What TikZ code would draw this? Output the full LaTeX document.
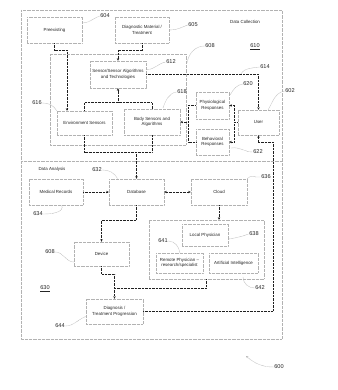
\documentclass[tikz,border=0pt]{standalone}
\usepackage{fontspec}
\setmainfont{Liberation Sans}
\usetikzlibrary{arrows.meta,calc}
\begin{document}
\begin{tikzpicture}[x=1pt,y=-1pt,
  box/.style={draw=gray!60, dash pattern=on 0.6pt off 0.7pt, line width=0.45pt, align=center,
    font=\fontsize{4.4}{5.6}\selectfont, text=gray!30!black, inner sep=1pt},
  grp/.style={draw=gray!60, dash pattern=on 0.6pt off 0.7pt, line width=0.45pt},
  conn/.style={draw=gray!25!black, dash pattern=on 0.9pt off 0.5pt, line width=0.6pt},
  arr/.style={conn, -{Stealth[length=2.6pt,width=2.4pt]}},
  arrb/.style={conn, {Stealth[length=2.6pt,width=2.4pt]}-{Stealth[length=2.6pt,width=2.4pt]}},
  lab/.style={font=\fontsize{5.6}{6.5}\selectfont, text=gray!30!black, inner sep=0.5pt},
  ttl/.style={font=\fontsize{4.4}{5.6}\selectfont, text=gray!30!black, inner sep=0.5pt},
  lead/.style={draw=gray!60, line width=0.4pt, dash pattern=on 0.6pt off 0.5pt}]
\useasboundingbox (0,0) rectangle (337,390);
\fill[white] (0,0) rectangle (337,390);

% containers
\draw[grp] (21,10) rectangle (282,339);
\draw[grp] (21,161) -- (282,161);
\draw[grp] (50,54) rectangle (186,145);
\node[grp, minimum width=115pt, minimum height=59pt, inner sep=0pt] (group) at (206.5,249.5) {};

% boxes
\node[box, minimum width=55pt, minimum height=26pt] (pre) at (54.5,30) {Preexisting};
\node[box, minimum width=54pt, minimum height=26pt] (diag) at (142,30) {Diagnostic Material /\\Treatment};
\node[box, minimum width=56pt, minimum height=27pt] (salg) at (118,74.5) {Sensor/Sensor Algorithms\\and Technologies};
\node[box, minimum width=55pt, minimum height=24pt] (env) at (84.5,123) {Environment Sensors};
\node[box, minimum width=56pt, minimum height=26pt] (body) at (152,122) {Body Sensors and\\Algorithms};
\node[box, minimum width=33pt, minimum height=27pt] (phys) at (212.5,105.5) {Physiological\\Responses};
\node[box, minimum width=33pt, minimum height=26pt] (behav) at (212.5,142) {Behavioral\\Responses};
\node[box, minimum width=41pt, minimum height=25pt] (user) at (258.5,122.5) {User};
\node[box, minimum width=54pt, minimum height=26pt] (med) at (56,192) {Medical Records};
\node[box, minimum width=55pt, minimum height=26pt] (db) at (136.5,192) {Database};
\node[box, minimum width=56pt, minimum height=26pt] (cloud) at (219,192) {Cloud};
\node[box, minimum width=46pt, minimum height=22pt] (local) at (205,235) {Local Physician};
\node[box, minimum width=47pt, minimum height=20pt] (remote) at (179.5,263) {Remote Physician --\\research/specialist};
\node[box, minimum width=49pt, minimum height=20pt] (ai) at (233.5,263) {Artificial Intelligence};
\node[box, minimum width=55pt, minimum height=24pt] (device) at (101.5,254) {Device};
\node[box, minimum width=57pt, minimum height=25pt] (dtp) at (114.5,311.5) {Diagnosis /\\Treatment Progression};

% titles
\node[ttl] (tdc) at (245,22) {Data Collection};
\node[ttl] (tda) at (52,169) {Data Analysis};

% connectors
\draw[arr] (pre.south) -- ++(0,7) -| ([xshift=-17.5pt]env.north);
\draw[arr] (diag.south) -- ++(0,7) -| (salg.north);
\draw[conn] (env.north) -- ++(0,-8) coordinate (ej) -| (body.north);
\draw[arr] (ej -| salg.south) -- (salg.south);
\draw[arr] (salg.east) -| (user.north);
\draw[conn] (phys.west) -- ++(-7,0) coordinate (bl) -- (bl |- behav.west) -- (behav.west);
\draw[arr] (bl |- body.east) -- (body.east);
\draw[conn] (user.west) -- ++(-3,0) coordinate (br);
\draw[arr] (br) |- (phys.east);
\draw[arr] (br) |- (behav.east);
\draw[conn] (env.south) -- ++(0,17) coordinate (dj) -| (body.south);
\draw[arr] (dj -| db.north) -- (db.north);
\draw[arr] (med.east) -- (db.west);
\draw[arrb] (db.east) -- (cloud.west);
\draw[arr] (cloud.south) -- (cloud.south |- group.north);
\draw[arr] (db.south) -- ++(0,15) -| (device.north);
\draw[arr] (device.south) -- ++(0,8) -| (dtp.north);
\draw[conn] (group.south) -- ++(0,9) coordinate (gj) -- (gj -| dtp.north);
\coordinate (uc) at (273,142);
\draw[arr] (dtp.east) -| (uc) -| (user.south);

% reference labels
\node[lab] (l604) at (105,16) {604};
\draw[lead] ($(pre.east)+(0,-7)$) to[out=0,in=200] (l604.west);
\node[lab] (l605) at (193,25) {605};
\draw[lead] ($(diag.east)+(1,0)$) to[out=0,in=200] (l605.west);
\node[lab] (l608) at (210,46) {608};
\draw[lead] (l608.west) to[out=180,in=80] (187,63);
\node[lab] (l610) at (255,47) {\underline{610}};
\node[lab] (l612) at (171,62) {612};
\draw[lead] ($(salg.east)+(1,-5)$) to[out=0,in=190] (l612.west);
\node[lab] (l614) at (265,67) {614};
\draw[lead] (241,74) to[out=60,in=190] (l614.west);
\node[lab] (l618) at (182,92) {618};
\draw[lead] (163,108) to[out=70,in=190] (l618.west);
\node[lab] (l620) at (248,84) {620};
\draw[lead] ($(phys.north east)+(1,3)$) to[out=60,in=190] (l620.west);
\node[lab] (l602) at (290,91) {602};
\draw[lead] ($(user.north east)+(-11,0)$) to[out=60,in=190] (l602.west);
\node[lab] (l616) at (37,103) {616};
\draw[lead] (l616.east) to[out=0,in=120] (env.north west);
\node[lab] (l622) at (258,152) {622};
\draw[lead] ($(behav.east)+(2,6)$) to[out=10,in=180] (l622.west);
\node[lab] (l632) at (97,170) {632};
\draw[lead] (l632.east) to[out=0,in=120] ($(db.north west)+(9,0)$);
\node[lab] (l634) at (38,214) {634};
\draw[lead] (l634.east) to[out=0,in=-70] ($(med.south west)+(33,0)$);
\node[lab] (l636) at (266,177) {636};
\draw[lead] (cloud.north east) to[out=60,in=190] (l636.west);
\node[lab] (l638) at (254,234) {638};
\draw[lead] ($(local.east)+(1,4)$) to[out=10,in=200] (l638.west);
\node[lab] (l641) at (163,241) {641};
\draw[lead] (l641.east) to[out=0,in=100] (180,253);
\node[lab] (l608b) at (50,252) {608};
\draw[lead] (l608b.east) to[out=0,in=180] ($(device.west)+(0,8)$);
\node[lab] (l630) at (45,289) {\underline{630}};
\node[lab] (l644) at (60,326) {644};
\draw[lead] (l644.east) to[out=0,in=200] ($(dtp.west)+(0,5)$);
\node[lab] (l642) at (260,288) {642};
\draw[lead] (243,277) to[out=-90,in=180] (l642.west);
\node[lab] (l600) at (279,367) {600};
\draw[lead, -{Stealth[length=2.4pt,width=2pt]}] (l600.west) to[out=180,in=-40] (246,356);
\end{tikzpicture}
\end{document}
